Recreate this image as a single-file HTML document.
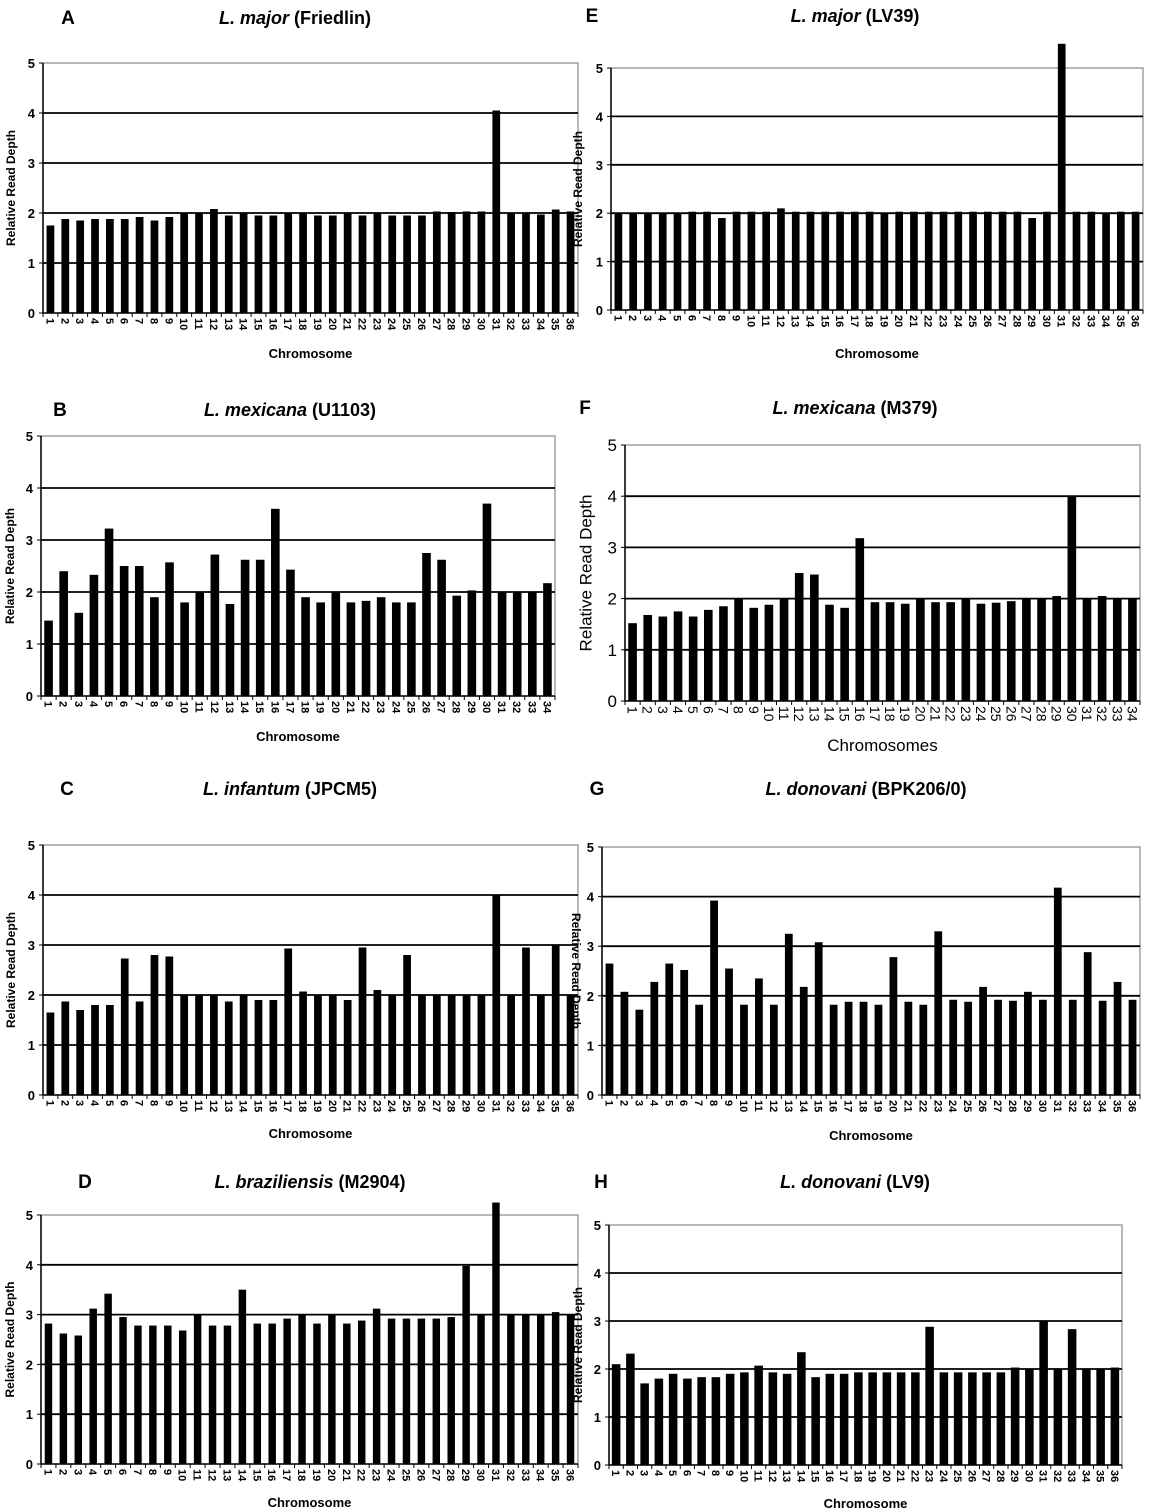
<!DOCTYPE html>
<html><head><meta charset="utf-8">
<style>
html,body{margin:0;padding:0;background:#fff;}
svg{display:block;font-family:"Liberation Sans",Arial,sans-serif;}
</style></head>
<body>
<svg id="fig" width="1152" height="1512" viewBox="0 0 1152 1512" xmlns="http://www.w3.org/2000/svg"></svg>
<script>
const valuesA = [1.75,1.88,1.85,1.88,1.88,1.88,1.92,1.85,1.92,2,2,2.08,1.95,2,1.95,1.95,2,2,1.95,1.95,2,1.95,2,1.95,1.95,1.95,2.03,2.02,2.03,2.03,4.05,2,2,1.97,2.07,2.03];
const valuesB = [1.45,2.4,1.6,2.33,3.22,2.5,2.5,1.9,2.57,1.8,2,2.72,1.77,2.62,2.62,3.6,2.43,1.9,1.8,2.0,1.8,1.83,1.9,1.8,1.8,2.75,2.62,1.93,2.03,3.7,2,2,2,2.17];
const valuesC = [1.65,1.87,1.7,1.8,1.8,2.73,1.87,2.8,2.77,2,2,2,1.87,2,1.9,1.9,2.93,2.07,2,2,1.9,2.95,2.1,2,2.8,2,2,2,2,2,4,2,2.95,2,3,2];
const valuesD = [2.82,2.62,2.58,3.12,3.42,2.95,2.78,2.78,2.78,2.68,3.0,2.78,2.78,3.5,2.82,2.82,2.92,3.0,2.82,3.0,2.82,2.88,3.12,2.92,2.92,2.92,2.92,2.95,3.98,3.0,5.25,3.0,3.0,3.0,3.05,3.0];
const valuesE = [2,2,2,2,2,2.03,2.03,1.9,2.03,2.03,2.03,2.1,2.03,2.03,2.03,2.03,2.03,2.03,2,2.03,2.03,2.03,2.03,2.03,2.03,2.03,2.03,2.03,1.9,2.03,5.5,2.03,2.03,2,2.03,2.03];
const valuesF = [1.52,1.68,1.65,1.75,1.65,1.78,1.85,2.0,1.82,1.88,2.0,2.5,2.47,1.88,1.82,3.18,1.93,1.93,1.9,2.0,1.93,1.93,2.0,1.9,1.92,1.95,2.0,2.0,2.05,4.0,2.0,2.05,2.0,2.0];
const valuesG = [2.65,2.08,1.72,2.28,2.65,2.52,1.82,3.92,2.55,1.82,2.35,1.82,3.25,2.18,3.08,1.82,1.88,1.88,1.82,2.78,1.88,1.82,3.3,1.92,1.88,2.18,1.92,1.9,2.08,1.92,4.18,1.92,2.88,1.9,2.28,1.92];
const valuesH = [2.1,2.32,1.7,1.8,1.9,1.8,1.83,1.83,1.9,1.93,2.07,1.93,1.9,2.35,1.83,1.9,1.9,1.93,1.93,1.93,1.93,1.93,2.88,1.93,1.93,1.93,1.93,1.93,2.03,2.0,3.0,2.0,2.83,2.0,2.0,2.03];
const yTicks = [0,1,2,3,4,5];
const categories34 = Array.from({length:34},(_,i)=>String(i+1));
const categories36 = Array.from({length:36},(_,i)=>String(i+1));

const panels = [
 {id:'a',letter:'A',sp:'L. major',strain:' (Friedlin)',lx:68,ty:24,tx:295,x0:43,x1:578,y0:313,y5:63,vals:valuesA,cats:categories36,xt:'Chromosome',xty:358,big:false,bw:0.52,yo:31,flip:false},
 {id:'b',letter:'B',sp:'L. mexicana',strain:'  (U1103)',lx:60,ty:416,tx:290,x0:41,x1:555,y0:696,y5:436,vals:valuesB,cats:categories34,xt:'Chromosome',xty:741,big:false,bw:0.57,yo:30,flip:false},
 {id:'c',letter:'C',sp:'L. infantum',strain:' (JPCM5)',lx:67,ty:795,tx:290,x0:43,x1:578,y0:1095,y5:845,vals:valuesC,cats:categories36,xt:'Chromosome',xty:1138,big:false,bw:0.52,yo:31,flip:false},
 {id:'d',letter:'D',sp:'L. braziliensis',strain:' (M2904)',lx:85,ty:1188,tx:310,x0:41,x1:578,y0:1464,y5:1215,vals:valuesD,cats:categories36,xt:'Chromosome',xty:1507,big:false,bw:0.5,yo:30,flip:false},
 {id:'e',letter:'E',sp:'L. major',strain:' (LV39)',lx:592,ty:22,tx:855,x0:611,x1:1143,y0:310,y5:68,vals:valuesE,cats:categories36,xt:'Chromosome',xty:358,big:false,bw:0.52,yo:32,flip:false},
 {id:'f',letter:'F',sp:'L. mexicana',strain:'  (M379)',lx:585,ty:414,tx:855,x0:625,x1:1140,y0:701,y5:445,vals:valuesF,cats:categories34,xt:'Chromosomes',xty:751,big:true,bw:0.57,yo:38,flip:false},
 {id:'g',letter:'G',sp:'L. donovani',strain:'  (BPK206/0)',lx:597,ty:795,tx:866,x0:602,x1:1140,y0:1095,y5:847,vals:valuesG,cats:categories36,xt:'Chromosome',xty:1140,big:false,bw:0.52,yo:27,flip:true},
 {id:'h',letter:'H',sp:'L. donovani',strain:'   (LV9)',lx:601,ty:1188,tx:855,x0:609,x1:1122,y0:1465,y5:1225,vals:valuesH,cats:categories36,xt:'Chromosome',xty:1508,big:false,bw:0.6,yo:30,flip:false}
];

const svg = document.getElementById('fig');
const NS = 'http://www.w3.org/2000/svg';
function mk(tag, attrs, parent){const e=document.createElementNS(NS,tag);for(const k in attrs)e.setAttribute(k,attrs[k]);parent.appendChild(e);return e;}

panels.forEach(p=>{
  const g = mk('g',{},svg);
  
  
  const n = p.vals.length;
  const slot = (p.x1-p.x0)/n;
  const yScale = v => p.y0 - v*(p.y0-p.y5)/5;
  const xScale = i => p.x0 + slot*(i+0.5);

  const L = mk('text',{x:p.lx,y:p.ty,'font-size':19,'font-weight':'bold','text-anchor':'middle'},g);
  L.textContent=p.letter;
  
  
  const T = mk('text',{x:p.tx,y:p.ty,'font-size':18,'font-weight':'bold','text-anchor':'middle'},g);
  
  
  const t1 = mk('tspan',{'font-style':'italic'},T); t1.textContent=p.sp;
  const t2 = mk('tspan',{},T); t2.textContent=p.strain;

  const fr = mk('rect',{x:p.x0,y:p.y5,width:p.x1-p.x0,height:p.y0-p.y5,fill:'none',stroke:'#888','stroke-width':1.2},g);
  
  
  yTicks.forEach(t=>{
    const y=yScale(t);
    if(t>0 && t<5){
      const gl=mk('line',{x1:p.x0,x2:p.x1,y1:y,y2:y,stroke:'#000','stroke-width':1.8},g);
      
      
    }
    mk('line',{x1:p.x0-4,x2:p.x0,y1:y,y2:y,stroke:'#000','stroke-width':1},g);
    const tl=mk('text',{x:p.x0-8,y:y+(p.big?6:5),'font-size':p.big?17:13,'font-weight':p.big?'normal':'bold','text-anchor':'end'},g);
    tl.textContent=String(t);
    
    
  });
  p.vals.forEach((v,i)=>{
    const cx=xScale(i), bw=slot*p.bw;
    const r=mk('rect',{x:cx-bw/2,y:yScale(v),width:bw,height:p.y0-yScale(v),fill:'#000'},g);
    
    
  });
  mk('line',{x1:p.x0,x2:p.x0,y1:p.y5,y2:p.y0,stroke:'#000','stroke-width':1.5},g);
  mk('line',{x1:p.x0,x2:p.x1,y1:p.y0,y2:p.y0,stroke:'#000','stroke-width':1.5},g);
  for(let i=0;i<=n;i++){
    const x=p.x0+slot*i;
    mk('line',{x1:x,x2:x,y1:p.y0,y2:p.y0+4,stroke:'#000','stroke-width':1},g);
  }
  p.cats.forEach((c,i)=>{
    const x=xScale(i), y=p.y0+5;
    const tl=mk('text',{x:x,y:y,'font-size':p.big?14:11,'font-weight':p.big?'normal':'bold','text-anchor':'start',transform:`rotate(90 ${x} ${y}) translate(0 ${p.big?5:4})`},g);
    tl.textContent=c;
    
    
  });
  const xt=mk('text',{x:(p.x0+p.x1)/2,y:p.xty,'font-size':p.big?17:13,'font-weight':p.big?'normal':'bold','text-anchor':'middle'},g);
  xt.textContent=p.xt;
  
  
});
// y-axis titles drawn last so they sit above neighbouring panels' bars
panels.forEach(p=>{
  const yc=(p.y0+p.y5)/2, yx=p.x0-p.yo;
  const rot = p.flip ? 90 : -90;
  const yt=mk('text',{x:yx,y:yc,'font-size':p.big?17:12,'font-weight':p.big?'normal':'bold','text-anchor':'middle','dominant-baseline':'middle',transform:`rotate(${rot} ${yx} ${yc})`},svg);
  yt.textContent='Relative Read Depth';
  
  
});
</script>
</body></html>
